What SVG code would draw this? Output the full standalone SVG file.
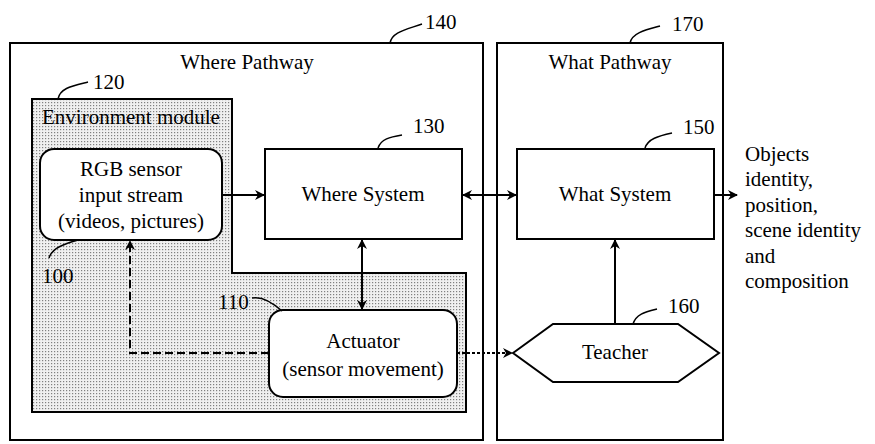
<svg xmlns="http://www.w3.org/2000/svg" width="875" height="444" viewBox="0 0 875 444" font-family="'Liberation Serif', 'DejaVu Serif', 'Noto Serif', serif">
<style>
text{font-family:"Liberation Serif","DejaVu Serif",serif;font-size:21px;fill:#000}
.c{text-anchor:middle}
.box{fill:#fff;stroke:#000;stroke-width:2}
.frame{fill:#fff;stroke:#000;stroke-width:2}
.lead{fill:none;stroke:#000;stroke-width:1.5}
.ln{fill:none;stroke:#000;stroke-width:2}
</style>
<defs>
<pattern id="dots" width="3" height="3" patternUnits="userSpaceOnUse">
<rect width="3" height="3" fill="#f0f0f0"/>
<rect x="0" y="0" width="1.2" height="1.2" fill="#808080"/>
</pattern>
<marker id="ah" viewBox="0 0 10 10" refX="9" refY="5" markerWidth="10" markerHeight="10" markerUnits="userSpaceOnUse" orient="auto-start-reverse">
<path d="M0,0 L10,5 L0,10 L3,5 z" fill="#000"/>
</marker>
</defs>
<g id="where-pathway">
<rect class="frame" x="10" y="43" width="473" height="397"/>
<text class="c" x="247" y="69">Where Pathway</text>
<path class="lead" d="M390,43 C392,32 405,30 422,24"/>
<text x="425" y="29">140</text>
</g>
<g id="what-pathway">
<rect class="frame" x="497" y="43" width="226" height="397"/>
<text class="c" x="610" y="69">What Pathway</text>
<path class="lead" d="M630,43 C632,33 645,30 660,26"/>
<text x="672" y="31">170</text>
</g>
<g id="environment-module">
<path d="M32,99 H232 V273 H466 V412 H32 Z" fill="url(#dots)" stroke="#000" stroke-width="2"/>
<text x="42" y="124">Environment module</text>
<path class="lead" d="M58,99 C60,88 72,86 88,82"/>
<text x="93" y="89">120</text>
</g>
<g id="rgb-sensor">
<rect class="box" x="40" y="149" width="182" height="91" rx="14"/>
<text class="c" x="131" y="176">RGB sensor</text>
<text class="c" x="131" y="202">input stream</text>
<text class="c" x="131" y="228">(videos, pictures)</text>
<path class="lead" d="M49,258 C52,248 64,244 78,240"/>
<text x="42" y="283">100</text>
</g>
<g id="where-system">
<rect class="box" x="265" y="149" width="197" height="90"/>
<text class="c" x="363" y="201">Where System</text>
<path class="lead" d="M378,148 C381,139 390,137 402,135"/>
<text x="413" y="133">130</text>
</g>
<g id="what-system">
<rect class="box" x="517" y="149" width="197" height="90"/>
<text class="c" x="615" y="201">What System</text>
<path class="lead" d="M645,148 C648,139 658,136 672,133"/>
<text x="683" y="134">150</text>
</g>
<g id="actuator">
<rect class="box" x="269" y="310" width="188" height="87" rx="14"/>
<text class="c" x="363" y="348">Actuator</text>
<text class="c" x="363" y="376">(sensor movement)</text>
<path class="lead" d="M252,298 C262,296 272,302 282,311"/>
<text x="218" y="309">110</text>
</g>
<g id="teacher">
<path d="M513,353 L553,324 H678 L719,353 L678,382 H553 Z" fill="#fff" stroke="#000" stroke-width="2"/>
<text class="c" x="615" y="359">Teacher</text>
<path class="lead" d="M633,324 C636,314 645,312 657,309"/>
<text x="668" y="313">160</text>
</g>
<g id="output-label">
<text x="745" y="161">Objects</text>
<text x="745" y="186">identity,</text>
<text x="745" y="212">position,</text>
<text x="745" y="237">scene identity</text>
<text x="745" y="263">and</text>
<text x="745" y="288">composition</text>
</g>
<g id="connectors">
<line class="ln" x1="222" y1="195" x2="264" y2="195" marker-end="url(#ah)"/>
<line class="ln" x1="463" y1="195" x2="516" y2="195" marker-start="url(#ah)" marker-end="url(#ah)"/>
<line class="ln" x1="714" y1="195" x2="737" y2="195" marker-end="url(#ah)"/>
<line class="ln" x1="362" y1="240" x2="362" y2="309" marker-start="url(#ah)" marker-end="url(#ah)"/>
<line class="ln" x1="615" y1="324" x2="615" y2="240" marker-end="url(#ah)"/>
<path class="ln" d="M269,353 H130 V241" stroke-dasharray="8,4" marker-end="url(#ah)"/>
<line class="ln" x1="457" y1="353" x2="512" y2="353" stroke-dasharray="3,2" marker-end="url(#ah)"/>
</g>
</svg>
